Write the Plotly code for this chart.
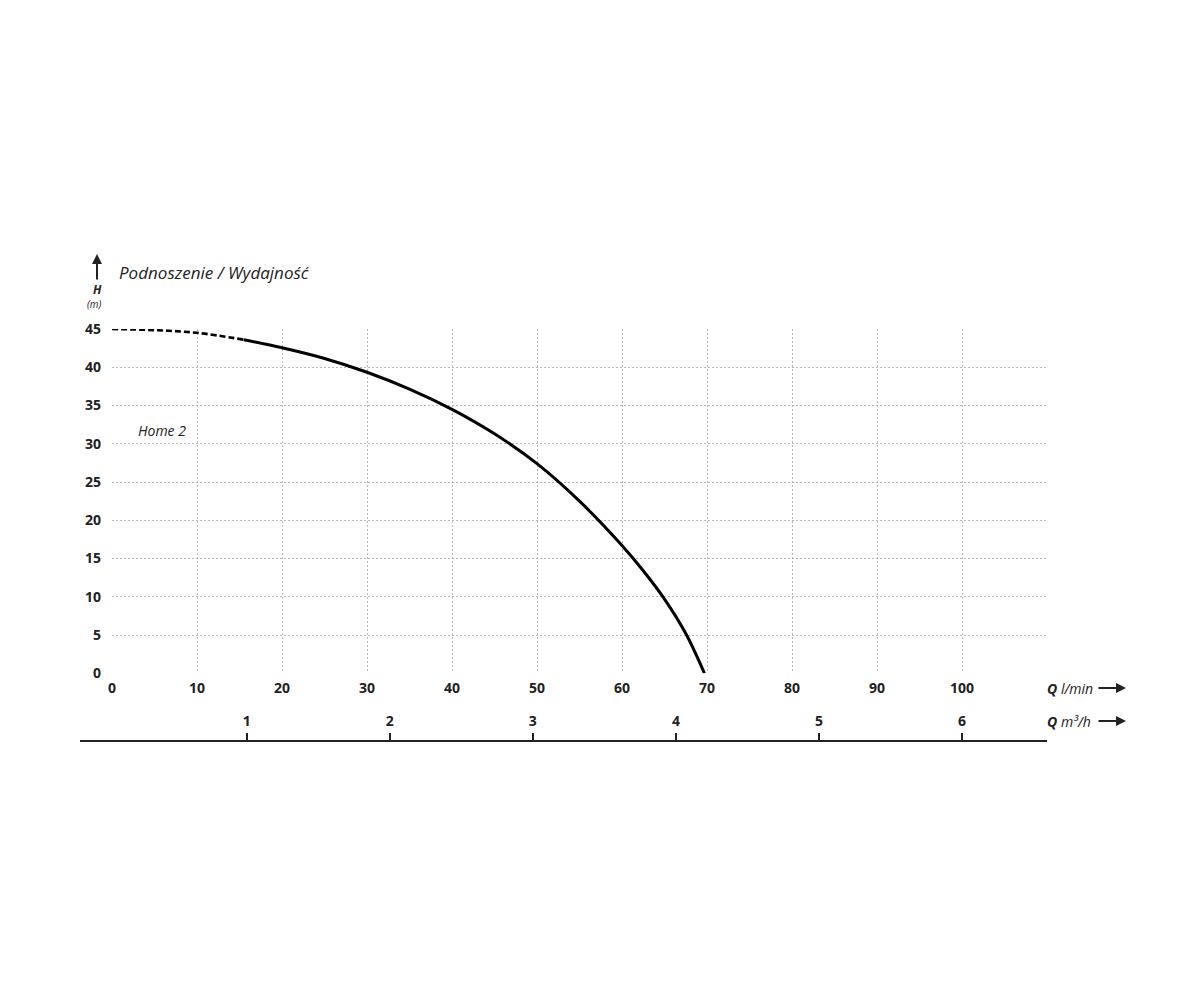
import plotly.graph_objects as go

# Data
q_dashed = [0, 5, 10, 15.5]
h_dashed = [45.0, 44.85, 44.5, 43.6]
q_solid = [15.5, 20, 25, 30, 35, 40, 45, 50, 55, 60, 62.5, 65, 67.5, 69.7]
h_solid = [43.6, 42.55, 41.15, 39.35, 37.15, 34.5, 31.3, 27.4, 22.5, 16.7, 13.4, 9.7, 5.2, 0.0]

x_ticks = [0, 10, 20, 30, 40, 50, 60, 70, 80, 90, 100, 110]
x_ticktext = ["0", "10", "20", "30", "40", "50", "60", "70", "80", "90", "100", ""]
y_ticks = [0, 5, 10, 15, 20, 25, 30, 35, 40, 45]
m3h_ticks = [1, 2, 3, 4, 5, 6]

W, H = 1200, 1000
OFF = 8  # page body margin
L, R = 112 - OFF, 1047 - OFF
T, B = 329 - OFF, 741 - OFF
PLOT_BOTTOM = 673.3 - OFF
ph = B - T
pw = R - L

def px(xpix):
    return (xpix - OFF - L) / pw

def py(ypix):
    return (B - (ypix - OFF)) / ph

FONT = "Open Sans"
INK = "#222222"
grid = dict(showgrid=True, gridcolor="#b5b5b5", gridwidth=1, griddash="2px,2px", zeroline=False)

fig = go.Figure()
fig.add_trace(go.Scatter(x=q_dashed, y=h_dashed, mode="lines",
                         line=dict(color="black", width=2.6, dash="6px,3px", shape="spline"),
                         hoverinfo="skip", showlegend=False))
fig.add_trace(go.Scatter(x=q_solid, y=h_solid, mode="lines",
                         line=dict(color="black", width=3, shape="spline", smoothing=1),
                         hoverinfo="skip", showlegend=False))
# secondary axis holder (invisible)
fig.add_trace(go.Scatter(x=[m3h_ticks[0]], y=[0], xaxis="x2", mode="markers",
                         marker=dict(opacity=0), hoverinfo="skip", showlegend=False))

tickfont = dict(family=FONT, size=14, color=INK, weight="bold")

fig.update_layout(
    width=W, height=H,
    margin=dict(l=L, r=W - R, t=T, b=H - B, pad=0),
    plot_bgcolor="white", paper_bgcolor="white",
    xaxis=dict(range=[0, 110], tickvals=x_ticks, ticktext=x_ticktext, tickfont=tickfont,
               ticks="", ticklabelstandoff=5, showline=False, fixedrange=True, **grid),
    yaxis=dict(range=[0, 45], domain=[(B - PLOT_BOTTOM) / ph, 1], tickvals=y_ticks, tickfont=tickfont,
               ticks="", ticklabelstandoff=10, showline=False, fixedrange=True, **grid),
    xaxis2=dict(range=[0.0584, 6.594], overlaying="x", anchor="free", position=0, side="top",
                tickvals=m3h_ticks, ticks="outside", ticklen=8, tickwidth=2, tickcolor=INK,
                tickfont=tickfont, ticklabelstandoff=1,
                showline=False, showgrid=False, zeroline=False, fixedrange=True),
    showlegend=False,
)

shapes = [
    dict(type="line", xref="paper", yref="paper", x0=px(80), x1=1, y0=0, y1=0,
         line=dict(color=INK, width=2)),
]
fig.update_layout(shapes=shapes)

ann = []
ann.append(dict(xref="paper", yref="paper", x=px(117), y=py(272), xanchor="left", yanchor="middle", showarrow=False,
                text="<i>Podnoszenie / Wydajność</i>", font=dict(family=FONT, size=17, color=INK)))
ann.append(dict(xref="paper", yref="paper", x=px(97), y=py(289), xanchor="center", yanchor="middle", showarrow=False,
                text="<b><i>H</i></b>", font=dict(family=FONT, size=12, color=INK)))
ann.append(dict(xref="paper", yref="paper", x=px(94), y=py(304), xanchor="center", yanchor="middle", showarrow=False,
                text="<i>(m)</i>", font=dict(family=FONT, size=10, color=INK)))
ann.append(dict(xref="paper", yref="paper", x=px(97), y=py(254), ax=0, ay=27, showarrow=True,
                text="", arrowhead=2, arrowsize=1, arrowwidth=2, arrowcolor=INK))
ann.append(dict(xref="paper", yref="paper", x=px(136), y=py(430), xanchor="left", yanchor="middle", showarrow=False,
                text="<i>Home 2</i>", font=dict(family=FONT, size=14, color=INK)))
ann.append(dict(xref="paper", yref="paper", x=px(1045), y=py(688), xanchor="left", yanchor="middle", showarrow=False,
                text="<b><i>Q</i></b> <i>l/min</i>", font=dict(family=FONT, size=14, color=INK)))
ann.append(dict(xref="paper", yref="paper", x=px(1126), y=py(688), ax=-29, ay=0, showarrow=True,
                text="", arrowhead=2, arrowsize=1, arrowwidth=2, arrowcolor=INK))
ann.append(dict(xref="paper", yref="paper", x=px(1045), y=py(721), xanchor="left", yanchor="middle", showarrow=False,
                text="<b><i>Q</i></b> <i>m³/h</i>", font=dict(family=FONT, size=14, color=INK)))
ann.append(dict(xref="paper", yref="paper", x=px(1126), y=py(721), ax=-29, ay=0, showarrow=True,
                text="", arrowhead=2, arrowsize=1, arrowwidth=2, arrowcolor=INK))
fig.update_layout(annotations=ann)

fig.write_html("out.html", config={"displayModeBar": False})
